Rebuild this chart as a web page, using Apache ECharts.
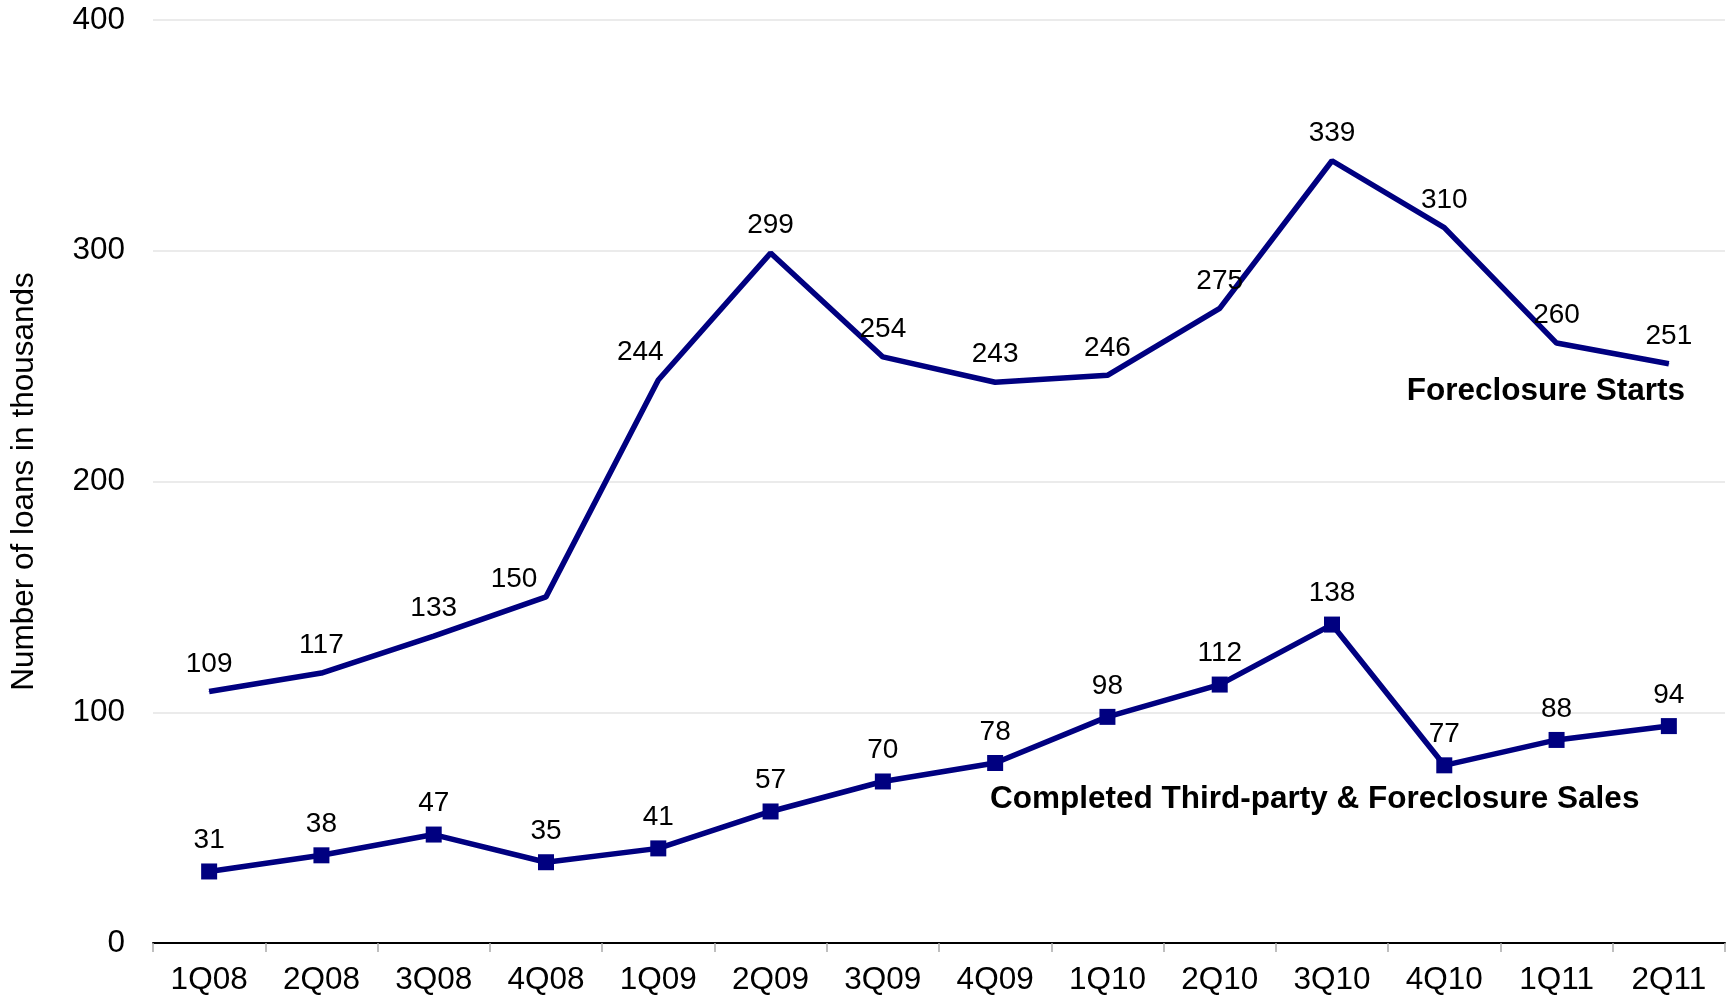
<!DOCTYPE html>
<html>
<head>
<meta charset="utf-8">
<script src="https://cdn.jsdelivr.net/npm/echarts@6/dist/echarts.min.js"></script>
<style>
html,body{margin:0;padding:0;background:#fff;}
#c{width:1726px;height:997px;}
</style>
</head>
<body>
<div id="c"></div>
<script>
const categories = ['1Q08','2Q08','3Q08','4Q08','1Q09','2Q09','3Q09','4Q09','1Q10','2Q10','3Q10','4Q10','1Q11','2Q11'];
const foreclosureStarts = [109,117,133,150,244,299,254,243,246,275,339,310,260,251];
const completedSales = [31,38,47,35,41,57,70,78,98,112,138,77,88,94];
const yTicks = [0,100,200,300,400];

const FONT = '"Liberation Sans", Arial, sans-serif';
const NAVY = '#000080';

// per-point label offsets for Excel-style placement
const startsLabelOffsets = {3: [-32, 10], 4: [-18, 0]};

const startsData = foreclosureStarts.map((v, i) => {
  const o = startsLabelOffsets[i];
  return o ? {value: v, label: {offset: o}} : v;
});

const chart = echarts.init(document.getElementById('c'));
chart.setOption({
  animation: false,
  backgroundColor: '#ffffff',
  grid: {left: 153, right: 1, top: 20, bottom: 54},
  xAxis: {
    type: 'category',
    data: categories,
    boundaryGap: true,
    axisLine: {lineStyle: {color: '#000', width: 2}},
    axisTick: {show: true, length: 9, lineStyle: {color: '#aaa', width: 1.5}},
    axisLabel: {color: '#000', fontSize: 31.5, fontFamily: FONT, margin: 21}
  },
  yAxis: {
    type: 'value',
    min: yTicks[0],
    max: yTicks[yTicks.length - 1],
    interval: 100,
    name: 'Number of loans in thousands',
    nameLocation: 'middle',
    nameGap: 113,
    nameRotate: 90,
    nameTextStyle: {color: '#000', fontSize: 31.5, fontFamily: FONT},
    axisLine: {show: false},
    axisTick: {show: false},
    axisLabel: {color: '#000', fontSize: 31.5, fontFamily: FONT, margin: 28},
    splitLine: {lineStyle: {color: '#e4e4e4', width: 1.5}}
  },
  series: [
    {
      name: 'Foreclosure Starts',
      type: 'line',
      data: startsData,
      symbol: 'circle',
      symbolSize: 1,
      itemStyle: {color: NAVY},
      lineStyle: {color: NAVY, width: 5.5},
      label: {show: true, position: 'top', distance: 13, color: '#000', fontSize: 28, fontFamily: FONT}
    },
    {
      name: 'Completed Third-party & Foreclosure Sales',
      type: 'line',
      data: completedSales,
      symbol: 'rect',
      symbolSize: 16,
      itemStyle: {color: NAVY},
      lineStyle: {color: NAVY, width: 5.5},
      label: {show: true, position: 'top', distance: 9, color: '#000', fontSize: 28, fontFamily: FONT}
    }
  ],
  graphic: [
    {
      type: 'text', right: 41, top: 375,
      style: {text: 'Foreclosure Starts', fill: '#000', font: 'bold 31.5px ' + FONT}
    },
    {
      type: 'text', left: 990, top: 783,
      style: {text: 'Completed Third-party & Foreclosure Sales', fill: '#000', font: 'bold 31.5px ' + FONT}
    }
  ]
});
</script>
</body>
</html>
